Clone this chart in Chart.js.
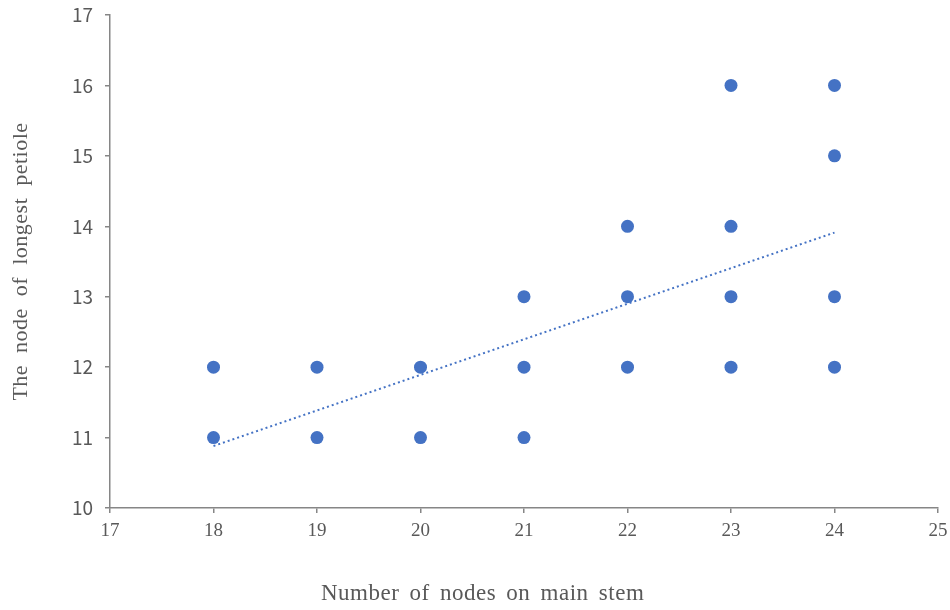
<!DOCTYPE html>
<html>
<head>
<meta charset="utf-8">
<script src="https://cdn.jsdelivr.net/npm/chart.js@4"></script>
<style>
  html, body { margin: 0; padding: 0; background: #fff; }
  #wrap { width: 950px; height: 610px; }
</style>
</head>
<body>
<div id="wrap"><canvas id="chart" width="950" height="610"></canvas></div>
<script>
// data
const nodeX = [18, 18, 19, 19, 20, 20, 21, 21, 21, 22, 22, 22, 23, 23, 23, 23, 24, 24, 24, 24];
const petioleY = [12, 11, 12, 11, 12, 11, 13, 12, 11, 14, 13, 12, 16, 14, 13, 12, 16, 15, 13, 12];
const trendX = [18, 24];
const trendY = [10.88, 13.91];
const xTitle = 'Number of nodes on main stem';
const yTitle = 'The node of longest petiole';

const blue = '#4472C4';
const axisGray = '#868686';
const textGray = '#595959';

// axis titles drawn by hand: the original has wide word spacing and an off-center x title
const axisTitles = {
    id: 'axisTitles',
    afterDraw(chart) {
        const ctx = chart.ctx;
        const area = chart.chartArea;
        ctx.save();
        ctx.fillStyle = textGray;
        ctx.textAlign = 'center';
        ctx.textBaseline = 'alphabetic';
        ctx.letterSpacing = '0.5px';

        ctx.font = '23px "Liberation Serif", serif';
        ctx.wordSpacing = '4px';
        ctx.fillText(xTitle, area.left + (area.right - area.left) * 0.45, 600);

        ctx.font = '22px "Liberation Serif", serif';
        ctx.wordSpacing = '6px';
        ctx.translate(27, (area.top + area.bottom) / 2);
        ctx.rotate(-Math.PI / 2);
        ctx.fillText(yTitle, 0, 0);
        ctx.restore();
    }
};

new Chart(document.getElementById('chart'), {
    type: 'scatter',
    data: {
        datasets: [
            {
                label: 'points',
                data: nodeX.map((x, i) => ({ x: x, y: petioleY[i] })),
                backgroundColor: blue,
                borderColor: blue,
                pointRadius: 6.5,
                pointHoverRadius: 6.5,
                borderWidth: 0
            },
            {
                label: 'trend',
                type: 'line',
                data: trendX.map((x, i) => ({ x: x, y: trendY[i] })),
                borderColor: blue,
                borderWidth: 2,
                borderDash: [2, 3],
                pointRadius: 0,
                fill: false
            }
        ]
    },
    options: {
        responsive: false,
        animation: false,
        layout: { padding: { left: 0, right: 12, top: 15, bottom: 0 } },
        plugins: { legend: { display: false }, tooltip: { enabled: false } },
        scales: {
            x: {
                type: 'linear',
                min: 17, max: 25,
                ticks: { stepSize: 1, color: textGray, padding: 7, font: { family: '"Liberation Serif", serif', size: 19 } },
                grid: { drawOnChartArea: false, drawTicks: true, tickLength: 5, color: axisGray, lineWidth: 1.5 },
                border: { color: axisGray, width: 1.5 },
                afterFit(scale) {
                    scale.height = 102;
                    scale.paddingLeft = 0;
                    scale.paddingRight = 0;
                }
            },
            y: {
                min: 10, max: 17,
                ticks: { stepSize: 1, color: textGray, padding: 12, font: { family: '"Noto Sans CJK SC", "Noto Sans", sans-serif', size: 19 } },
                grid: { drawOnChartArea: false, drawTicks: true, tickLength: 5, color: axisGray, lineWidth: 1.5 },
                border: { color: axisGray, width: 1.5 },
                afterFit(scale) {
                    scale.width = 110;
                    scale.paddingTop = 0;
                    scale.paddingBottom = 0;
                }
            }
        }
    },
    plugins: [axisTitles]
});
</script>
</body>
</html>
